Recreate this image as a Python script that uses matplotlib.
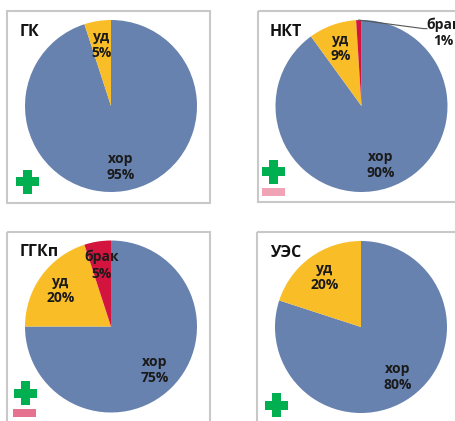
import numpy as np
import matplotlib
matplotlib.use('Agg')
import matplotlib.pyplot as plt
from matplotlib.patches import Rectangle

plt.rcParams['font.family'] = ['Open Sans', 'DejaVu Sans']

# данные по участкам
titles = ['ГК', 'НКТ', 'ГГКп', 'УЭС']
grades = [['хор', 'уд'], ['хор', 'уд', 'брак'], ['хор', 'уд', 'брак'], ['хор', 'уд']]
shares = [[95, 5], [90, 9, 1], [75, 20, 5], [80, 20]]
colors = {'хор': '#6782AF', 'уд': '#F9BD28', 'брак': '#D2143F'}

W, H = 455, 421
R = 86
# центры кругов, рамки, подписи, значки (в пикселях)
centers = [(111, 106), (361.5, 106), (111, 326.5), (361, 327)]
frames = [(7, 11, 203, 192), (258, 11, 220, 191), (7, 232, 203, 220), (257, 232, 220, 220)]
title_pos = [(20, 32), (270, 32), (20, 252), (270, 253)]
plus_pos = [(27.5, 181.5), (273.5, 171.5), (25, 393), (276, 405)]
minus_pos = [None, (262, 188, '#F0A3B5'), (13, 409, '#E5738F'), None]

fig = plt.figure(figsize=(W / 100, H / 100), dpi=100)
bg = fig.add_axes([0, 0, 1, 1])
bg.set_xlim(0, W)
bg.set_ylim(H, 0)
bg.axis('off')

for i in range(4):
    x0, y0, w, h = frames[i]
    bg.add_patch(Rectangle((x0, y0), w, h, fill=False, ec='#C8C8C8', lw=1.5))
    bg.text(title_pos[i][0], title_pos[i][1], titles[i], fontsize=11.5,
            fontweight='bold', ha='left', va='center', color='#111111')

    # зелёный плюс
    px, py = plus_pos[i]
    bg.add_patch(Rectangle((px - 11.5, py - 4.5), 23, 9, color='#00B050', lw=0))
    bg.add_patch(Rectangle((px - 4.5, py - 12), 9, 24, color='#00B050', lw=0))
    if minus_pos[i] is not None:
        mx, my, mc = minus_pos[i]
        bg.add_patch(Rectangle((mx, my), 23, 8, color=mc, lw=0))

    cx, cy = centers[i]
    ax = fig.add_axes([(cx - R) / W, 1 - (cy + R) / H, 2 * R / W, 2 * R / H])
    labels = [f'{g}\n{v}%' for g, v in zip(grades[i], shares[i])]
    wedges, texts = ax.pie(shares[i], labels=labels, colors=[colors[g] for g in grades[i]],
                           startangle=90, counterclock=False, labeldistance=0.72,
                           wedgeprops={'clip_on': False, 'lw': 0},
                           textprops={'fontsize': 10, 'fontweight': 'bold',
                                      'color': '#1A1A1A', 'linespacing': 1.2})
    for t in texts:
        t.set_ha('center')
        t.set_va('center')
        t.set_clip_on(False)
    ax.set_xlim(-1, 1)
    ax.set_ylim(-1, 1)

    # маленький сектор брака подписываем снаружи с выноской
    if titles[i] == 'НКТ':
        w = wedges[2]
        mid = np.deg2rad((w.theta1 + w.theta2) / 2)
        ax.plot([np.cos(mid), 0.72, 0.76], [np.sin(mid), 0.9, 0.9],
                color='#555555', lw=0.8, clip_on=False)
        texts[2].set_position((0.95, 0.85))

fig.savefig('out.png', dpi=100)
